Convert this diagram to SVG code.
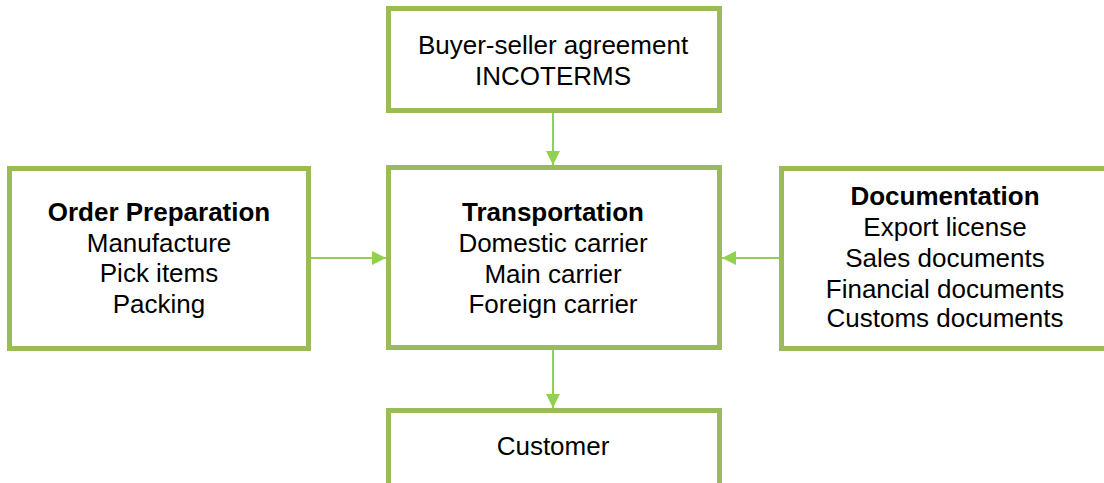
<svg xmlns="http://www.w3.org/2000/svg" width="1104" height="483" viewBox="0 0 1104 483">
<defs>
<style>
.box{fill:#fff;stroke:#9BBB59;stroke-width:5;}
.t{font-family:"Liberation Sans",Arial,sans-serif;font-size:26px;fill:#000;text-anchor:middle;}
.b{font-weight:bold;}
.c{stroke:#92D050;stroke-width:2;fill:none;}
</style>
<marker id="ah" markerWidth="14" markerHeight="14" viewBox="0 0 14 14" refX="14" refY="7" orient="auto" markerUnits="userSpaceOnUse">
<path d="M0,0 L14,7 L0,14 Z" fill="#92D050"/>
</marker>
</defs>
<rect width="1104" height="483" fill="#fff"/>
<g id="connectors">
<line class="c" x1="553" y1="113" x2="553" y2="165" marker-end="url(#ah)"/>
<line class="c" x1="311" y1="258" x2="386" y2="258" marker-end="url(#ah)"/>
<line class="c" x1="779" y1="258" x2="722" y2="258" marker-end="url(#ah)"/>
<line class="c" x1="553" y1="350" x2="553" y2="408" marker-end="url(#ah)"/>
</g>
<g id="agreement">
<rect class="box" x="388.5" y="8.5" width="331" height="102"/>
<text class="t" x="553" y="54">Buyer-seller agreement</text>
<text class="t" x="553" y="85">INCOTERMS</text>
</g>
<g id="order">
<rect class="box" x="9.5" y="168.5" width="299" height="180"/>
<text class="t b" x="159" y="221">Order Preparation</text>
<text class="t" x="159" y="252">Manufacture</text>
<text class="t" x="159" y="282">Pick items</text>
<text class="t" x="159" y="313">Packing</text>
</g>
<g id="transportation">
<rect class="box" x="388.5" y="167.5" width="331" height="180"/>
<text class="t b" x="553" y="221">Transportation</text>
<text class="t" x="553" y="252">Domestic carrier</text>
<text class="t" x="553" y="283">Main carrier</text>
<text class="t" x="553" y="313">Foreign carrier</text>
</g>
<g id="documentation">
<rect class="box" x="781.5" y="168.5" width="330" height="180"/>
<text class="t b" x="945" y="205">Documentation</text>
<text class="t" x="945" y="236">Export license</text>
<text class="t" x="945" y="267">Sales documents</text>
<text class="t" x="945" y="298">Financial documents</text>
<text class="t" x="945" y="327">Customs documents</text>
</g>
<g id="customer">
<rect class="box" x="388.5" y="410.5" width="331" height="80"/>
<text class="t" x="553" y="455">Customer</text>
</g>
</svg>
